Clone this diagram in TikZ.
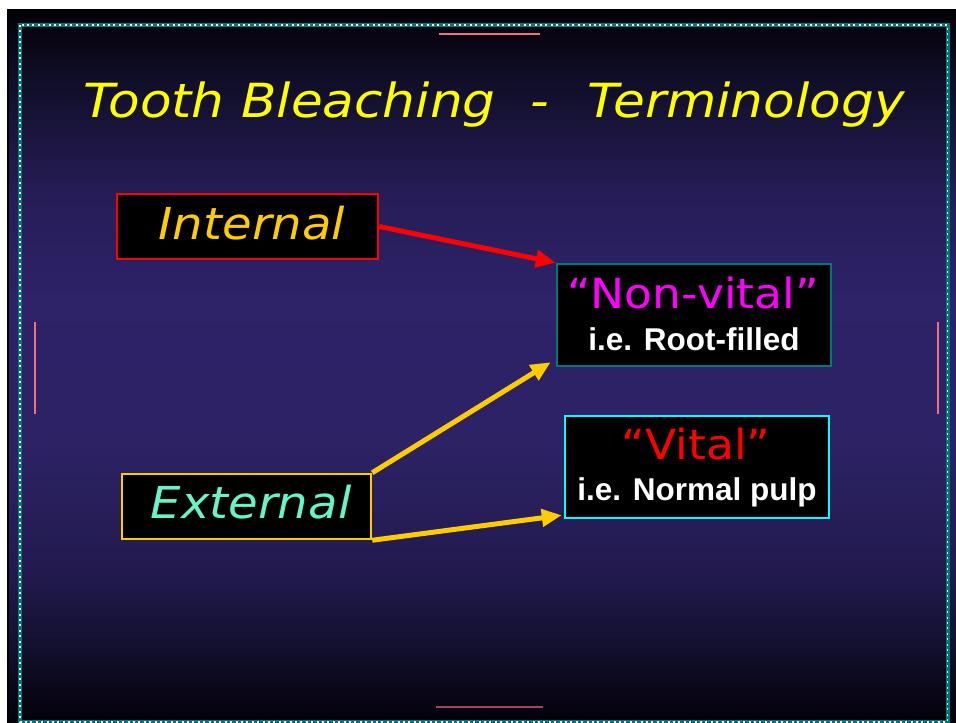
\documentclass[tikz,border=0pt]{standalone}
\usepackage{fontspec}
\usetikzlibrary{arrows.meta}
\newfontfamily\vfont{DejaVu Sans}
\newfontfamily\afont{Liberation Sans}
\definecolor{bgA}{HTML}{03020A}
\definecolor{bgB}{HTML}{0A0618}
\definecolor{bgC}{HTML}{12102C}
\definecolor{bgD}{HTML}{221A4E}
\definecolor{bgE}{HTML}{2C2264}
\definecolor{bgF}{HTML}{2E2268}
\definecolor{bgG}{HTML}{261D58}
\definecolor{bgH}{HTML}{1C1640}
\definecolor{bgI}{HTML}{100E28}
\definecolor{bgJ}{HTML}{0A0614}
\definecolor{bgK}{HTML}{020006}
\definecolor{teal2}{HTML}{007878}
\definecolor{gold}{HTML}{FFCC00}
\definecolor{aqua}{HTML}{66F5C8}
\definecolor{pinkA}{HTML}{F07080}
\definecolor{pinkB}{HTML}{A04858}
\definecolor{magA}{HTML}{FF00FF}
\definecolor{cyanA}{HTML}{00FFFF}
\definecolor{redA}{HTML}{FF0000}
\definecolor{yelA}{HTML}{FFFF00}
\tikzset{
  box/.style={draw, line width=2.5pt, fill=black, inner sep=0pt},
  arr/.style={line width=5pt, -{Triangle[length=20pt,width=17pt]}},
  deco/.style={line width=2pt},
  titletxt/.style={font=\vfont\itshape\fontsize{47}{50}\selectfont, text=yelA, inner sep=0pt, xscale=1.1},
  bigtxt/.style={font=\vfont\itshape\fontsize{44}{48}\selectfont, inner sep=0pt, anchor=base, xscale=1.095},
  quotetxt/.style={font=\vfont\fontsize{41.5}{44}\selectfont, inner sep=0pt, anchor=base, xscale=1.1},
  subtxt/.style={font=\afont\bfseries\fontsize{31.5}{34}\selectfont, text=white, inner sep=0pt, anchor=base}
}
\begin{document}
\begin{tikzpicture}[x=1pt,y=-1pt]
\useasboundingbox (0,0) rectangle (956,723);
\fill[white] (0,0) rectangle (956,723);
% background gradient as thin strips
\foreach \ya/\yb/\ca/\cb in {11/40/bgK/bgJ, 40/80/bgJ/bgI, 80/140/bgI/bgH, 140/200/bgH/bgG, 200/300/bgG/bgF, 300/450/bgF/bgE, 450/573/bgE/bgD, 573/650/bgD/bgC, 650/690/bgC/bgB, 690/723/bgB/bgA}{
  \foreach \k in {0,...,19}{
    \pgfmathsetmacro\pa{\ya+(\yb-\ya)*\k/20}
    \pgfmathsetmacro\pb{\ya+(\yb-\ya)*(\k+1)/20+0.4}
    \pgfmathsetmacro\pc{100-5*\k-2.5}
    \fill[\ca!\pc!\cb] (9,\pa) rectangle (956,\pb);
  }
}
\fill[black] (7,9) rectangle (9,723);
\fill[black] (7,9) rectangle (956,11);
% dotted frame
\draw[teal2, line width=4pt] (20,25) rectangle (947.5,722);
\draw[white, line width=1.8pt, dash pattern=on 2pt off 3.4pt] (20,25) rectangle (947.5,722);
% decorative pink lines
\draw[deco, pinkA] (439,34) -- (540,34);
\draw[deco, pinkA] (35,322) -- (35,414);
\draw[deco, pinkA] (938,322) -- (938,414);
\draw[deco, pinkB] (436,707) -- (543,707);
% title
\node[titletxt, anchor=base west] (t1) at (83,117) {Tooth Bleaching};
\node[titletxt, anchor=base] (t2) at (540,117) {-};
\node[titletxt, anchor=base east] (t3) at (905,117) {Terminology};
% boxes
\node[box, draw=redA, minimum width=261pt, minimum height=65pt] (intl) at (247.5,226.5) {};
\node[box, draw=gold, minimum width=249pt, minimum height=65pt] (ext) at (246.5,506.5) {};
\node[box, draw=teal2, minimum width=274pt, minimum height=102pt] (nv) at (694,315) {};
\node[box, draw=cyanA, minimum width=264pt, minimum height=102pt] (vit) at (697,467) {};
% texts
\node[bigtxt, text=gold] (intlT) at (252,239) {Internal};
\node[bigtxt, text=aqua] (extT) at (251,518) {External};
\node[quotetxt, text=magA] (nvT) at (693,308) {“Non-vital”};
\node[subtxt] (nvS) at (694,350) {i.e. Root-filled};
\node[quotetxt, text=redA] (vitT) at (696,459) {“Vital”};
\node[subtxt] (vitS) at (697,500) {i.e. Normal pulp};
% arrows
\coordinate (nvtip) at ([xshift=-5pt,yshift=5pt]nv.south west);
\coordinate (vittip) at ([xshift=-2pt,yshift=4pt]vit.south west);
\draw[arr, redA] (intl.east) -- (nv.north west);
\draw[arr, gold] (ext.north east) -- (nvtip);
\draw[arr, gold] (ext.south east) -- (vittip);
\end{tikzpicture}
\end{document}
